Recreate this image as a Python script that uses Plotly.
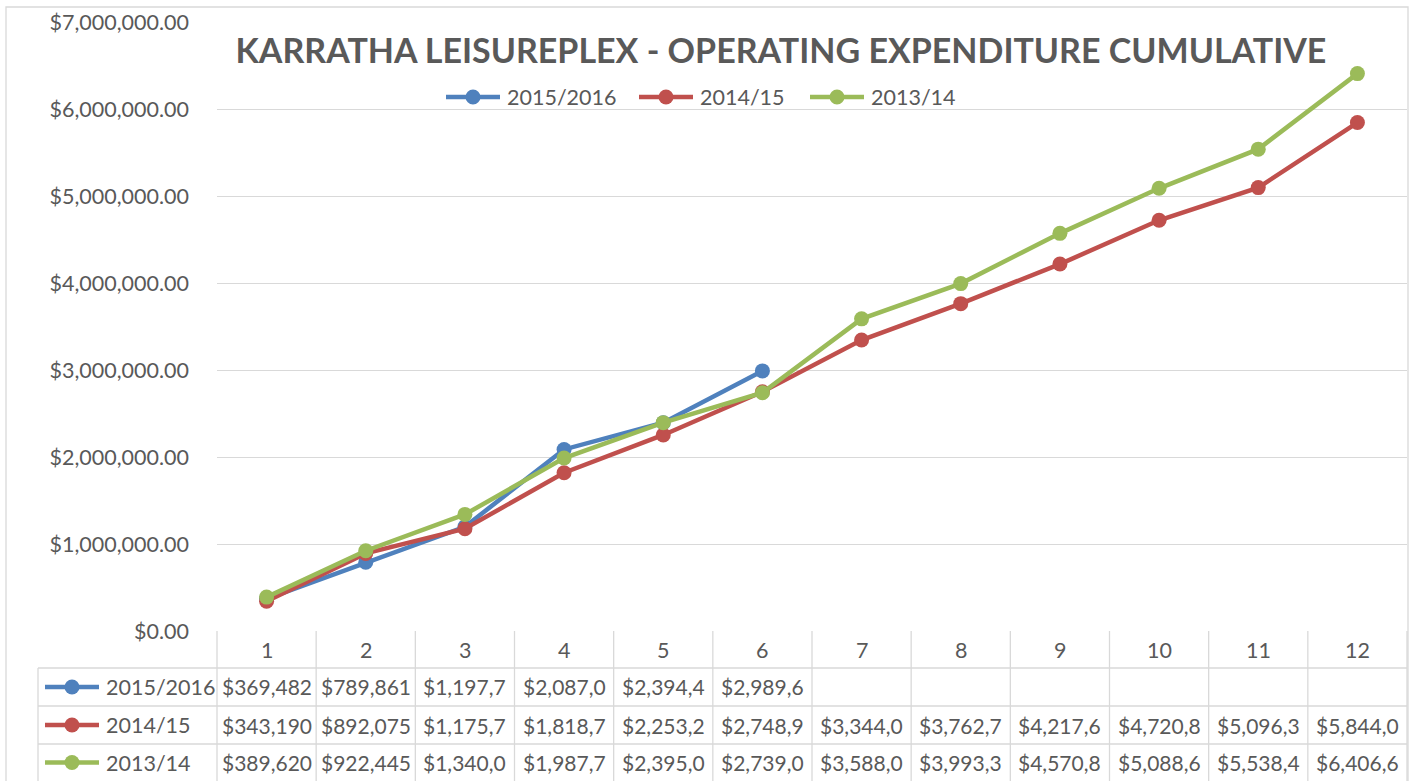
import plotly.graph_objects as go

# ---------------- data ----------------
months = [1, 2, 3, 4, 5, 6, 7, 8, 9, 10, 11, 12]
series_names = ["2015/2016", "2014/15", "2013/14"]
exp_2015_16 = [369482, 789861, 1197750, 2087050, 2394450, 2989650]
exp_2014_15 = [343190, 892075, 1175750, 1818750, 2253250, 2748950,
               3344050, 3762750, 4217650, 4720850, 5096350, 5844050]
exp_2013_14 = [389620, 922445, 1340050, 1987750, 2395050, 2739050,
               3588050, 3993350, 4570850, 5088650, 5538450, 6406650]
series_values = [exp_2015_16, exp_2014_15, exp_2013_14]
series_colors = ["#4F81BD", "#C0504D", "#9BBB59"]
y_ticks = [0, 1000000, 2000000, 3000000, 4000000, 5000000, 6000000, 7000000]

# ---------------- geometry (pixels) ----------------
W, H = 1411, 781
L, R, T, B = 217, 1407, 22, 631          # plot area
ROW_LINES = [668, 706, 744, 781]          # table row borders below header
TABLE_LEFT = 38
FONT = "Lato"
TXT = "#595959"
GRID = "#D9D9D9"
FS = 21.5
FS_TABLE = 21

def xp(px):
    return (px - L) / (R - L)

def yp(py):
    return (B - py) / (B - T)

fig = go.Figure()
for name, vals, col in zip(series_names, series_values, series_colors):
    fig.add_trace(go.Scatter(
        x=months[:len(vals)], y=vals, name=name, mode="lines+markers",
        line=dict(color=col, width=4.5),
        marker=dict(color=col, size=15),
        cliponaxis=False, showlegend=False,
    ))

shapes = []
ann = []
line_style = dict(color=GRID, width=1.3)
n = len(months)
# vertical borders between category columns
for i in range(n + 1):
    x = i / n
    shapes.append(dict(type="line", xref="paper", yref="paper",
                       x0=x, x1=x, y0=yp(B), y1=yp(H + 5), line=line_style))
# horizontal row borders
for py in ROW_LINES[:-1]:
    shapes.append(dict(type="line", xref="paper", yref="paper",
                       x0=xp(TABLE_LEFT), x1=1, y0=yp(py), y1=yp(py), line=line_style))
# left border of legend column
shapes.append(dict(type="line", xref="paper", yref="paper",
                   x0=xp(TABLE_LEFT), x1=xp(TABLE_LEFT), y0=yp(ROW_LINES[0]), y1=yp(H + 5),
                   line=line_style))
# chart outer border
shapes.append(dict(type="rect", xref="paper", yref="paper",
                   x0=xp(6), x1=xp(1408), y0=yp(7), y1=yp(H + 10),
                   line=dict(color=GRID, width=1.3), fillcolor="rgba(0,0,0,0)"))


def legend_key(cx_px, cy_px, col, half=27, r=7.5):
    shapes.append(dict(type="line", xref="paper", yref="paper",
                       x0=xp(cx_px - half), x1=xp(cx_px + half), y0=yp(cy_px), y1=yp(cy_px),
                       line=dict(color=col, width=4.5)))
    shapes.append(dict(type="circle", xref="paper", yref="paper",
                       x0=xp(cx_px - r), x1=xp(cx_px + r),
                       y0=yp(cy_px + r), y1=yp(cy_px - r),
                       fillcolor=col, line=dict(color=col, width=0)))


# top legend (drawn like Excel's)
legend_key_x = [473, 666, 837]
for name, col, kx in zip(series_names, series_colors, legend_key_x):
    legend_key(kx, 97, col)
    ann.append(dict(x=xp(kx + 32), y=yp(97), xref="paper", yref="paper", text=name,
                    xanchor="left", yanchor="middle", showarrow=False,
                    font=dict(family=FONT, size=FS, color=TXT)))

# header row: category numbers
for m in months:
    ann.append(dict(x=m, y=yp((B + ROW_LINES[0]) / 2), xref="x", yref="paper",
                    text=str(m), showarrow=False, xanchor="center", yanchor="middle",
                    font=dict(family=FONT, size=FS, color=TXT)))

# data rows
row_tops = ROW_LINES[:3]
row_bots = ROW_LINES[1:]
for name, vals, col, top, bot in zip(series_names, series_values, series_colors,
                                     row_tops, row_bots):
    cpy = (top + bot) / 2
    cy = yp(cpy)
    legend_key(72, cpy, col)
    ann.append(dict(x=xp(104), y=cy, xref="paper", yref="paper", text=name,
                    xanchor="left", yanchor="middle", showarrow=False,
                    font=dict(family=FONT, size=FS, color=TXT)))
    for m, v in zip(months, vals):
        label = f"${v:,.0f}"[:8]
        ann.append(dict(x=m, y=cy, xref="x", yref="paper", text=label,
                        showarrow=False, xanchor="center", yanchor="middle",
                        font=dict(family=FONT, size=FS_TABLE, color=TXT)))

fig.update_layout(
    width=W, height=H,
    margin=dict(l=L, r=W - R, t=T, b=H - B),
    paper_bgcolor="white", plot_bgcolor="white",
    showlegend=False,
    title=dict(text="<b>KARRATHA LEISUREPLEX - OPERATING EXPENDITURE CUMULATIVE</b>",
               xref="container", x=781 / W, xanchor="center",
               yref="container", y=1 - 51 / H, yanchor="middle",
               font=dict(family=FONT, size=34, color=TXT)),
    xaxis=dict(range=[0.5, 12.5], showticklabels=False, showgrid=False,
               zeroline=False, showline=False, fixedrange=True),
    yaxis=dict(range=[0, 7000000], tickvals=y_ticks,
               tickformat="$,.2f", showgrid=True, gridcolor=GRID, gridwidth=1.3,
               zeroline=False, showline=False, ticks="", ticklabelstandoff=27,
               tickfont=dict(family=FONT, size=FS, color=TXT)),
    shapes=shapes, annotations=ann,
)

fig.write_html("out.html", config={"displayModeBar": False},
               post_script="document.body.style.margin='0';")
